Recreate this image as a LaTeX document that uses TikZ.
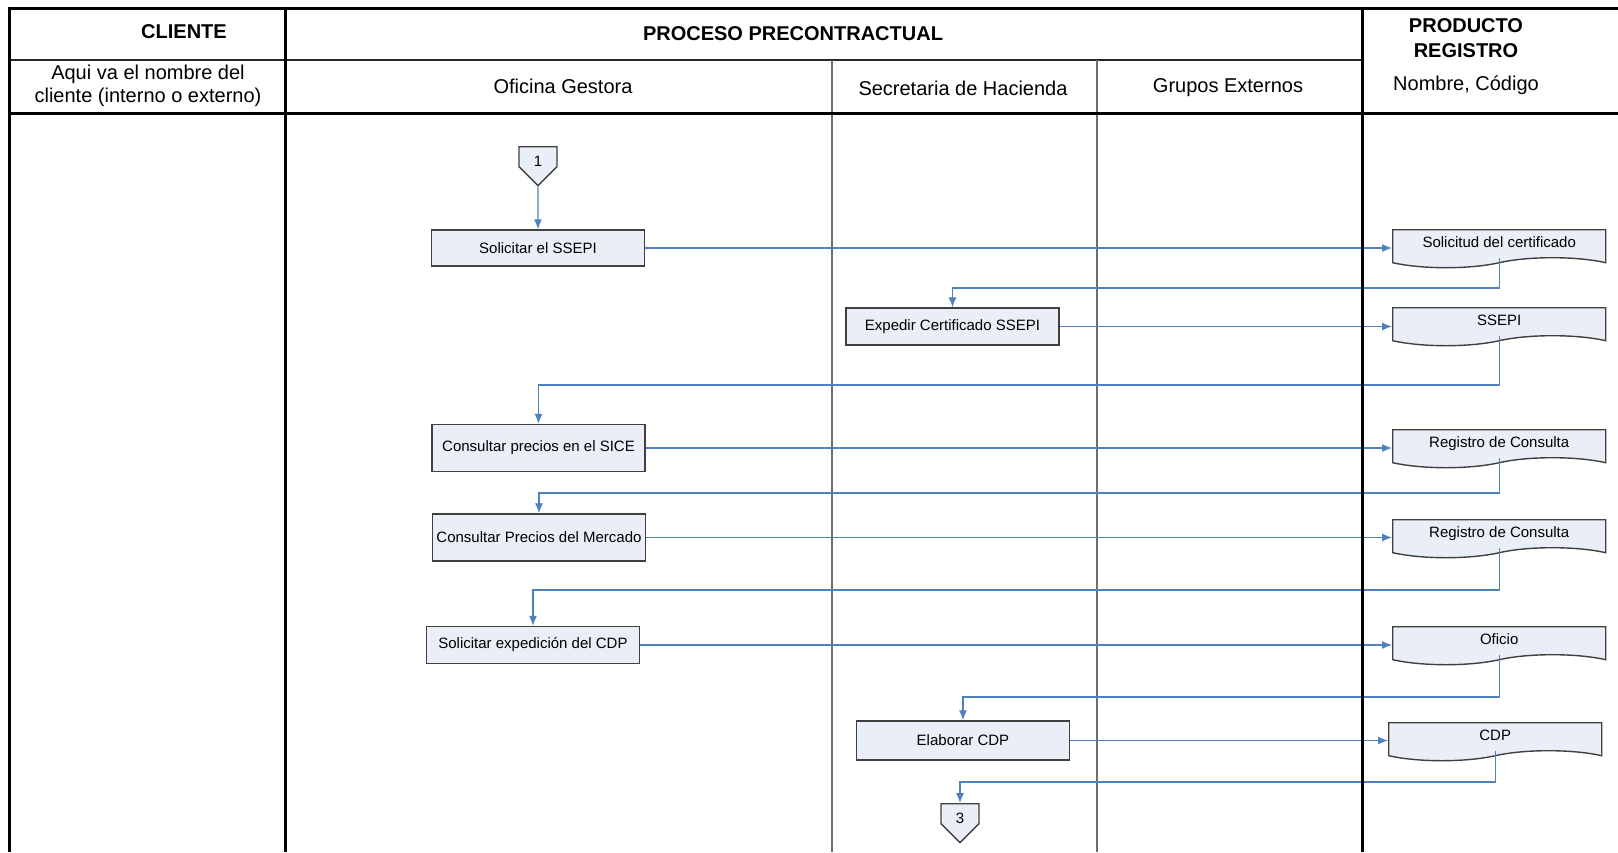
\documentclass[tikz,border=0pt]{standalone}
\usepackage{fontspec}
\setmainfont{Liberation Sans}
\usetikzlibrary{positioning, arrows.meta, shapes.symbols}

\definecolor{flowblue}{RGB}{79,129,189}
\definecolor{boxfill}{RGB}{233,238,247}
\definecolor{boxline}{RGB}{64,64,64}
\definecolor{lanegray}{RGB}{110,110,110}

\begin{document}
\begin{tikzpicture}[x=0.5pt, y=-0.5pt]

	\tikzstyle{frame}=[line width=1.5pt, black]
	\tikzstyle{rowline}=[line width=1pt, black!85]
	\tikzstyle{lane}=[line width=0.7pt, lanegray]
	\tikzstyle{head}=[font=\fontsize{10}{11.5}\selectfont, align=center, inner sep=0pt]
	\tikzstyle{headbold}=[font=\fontsize{10}{12.5}\selectfont\bfseries, align=center, inner sep=0pt]
	\tikzstyle{process}=[draw=boxline, line width=0.7pt, fill=boxfill, font=\fontsize{7.5}{9}\selectfont, minimum width=106.5pt, minimum height=18pt, inner sep=0pt]
	\tikzstyle{docnode}=[shape=tape, tape bend top=none, tape bend bottom=in and out, tape bend height=5pt, draw=boxline, line width=0.7pt, fill=boxfill, font=\fontsize{7.5}{9}\selectfont, minimum width=106.5pt, minimum height=19pt, text height=5.5pt, text depth=1.5pt, inner sep=0pt, anchor=north west]
	\tikzstyle{offpage}=[shape=signal, signal to=south, signal pointer angle=90, draw=boxline, line width=0.7pt, fill=boxfill, font=\fontsize{7.5}{9}\selectfont, minimum width=19pt, minimum height=11pt, text height=10pt, text depth=0pt, inner sep=0pt, anchor=north]
	\tikzstyle{flow}=[-{Latex[length=5pt, width=4pt]}, flowblue, line width=0.6pt]

	\useasboundingbox (0,0) rectangle (1618,852);

	% lanes
	\draw[rowline] (9,60) -- (1362,60);
	\draw[lane] (832,60) -- (832,852);
	\draw[lane] (1097,60) -- (1097,852);

	% header
	\node[headbold] (cliente) at (184,32) {CLIENTE};
	\node[headbold] (proceso) at (793,34) {PROCESO PRECONTRACTUAL};
	\node[headbold] (producto) at (1466,38) {PRODUCTO\\REGISTRO};
	\node[head] (clientename) at (148,86) {Aqui va el nombre del\\cliente (interno o externo)};
	\node[head] (oficina) at (563,86) {Oficina Gestora};
	\node[head] (secretaria) at (963,88) {Secretaria de Hacienda};
	\node[head] (grupos) at (1228,88) {Grupos Externos};
	\node[head] (nombre) at (1466,85) {Nombre, Código};

	% steps
	\node[offpage] (c1) at (538,146) {1};
	\node[process] (solicitar) at (538,248) {Solicitar el SSEPI};
	\node[process, minimum height=18.5pt] (expedir) at (952.5,326.5) {Expedir Certificado SSEPI};
	\node[process, minimum height=23.5pt] (sice) at (538.5,448) {Consultar precios en el SICE};
	\node[process, minimum height=23.5pt] (mercado) at (539,537.5) {Consultar Precios del Mercado};
	\node[process, minimum height=18.5pt] (cdpreq) at (533,645) {Solicitar expedición del CDP};
	\node[process, minimum height=19.5pt] (elaborar) at (963,740.5) {Elaborar CDP};
	\node[offpage] (c3) at (960,803) {3};

	% products
	\node[docnode] (doc1) at (1392,229) {Solicitud del certificado};
	\node[docnode] (doc2) at (1392,307) {SSEPI};
	\node[docnode] (doc3) at (1392,429) {Registro de Consulta};
	\node[docnode] (doc4) at (1392,519) {Registro de Consulta};
	\node[docnode] (doc5) at (1392,626) {Oficio};
	\node[docnode] (doc6) at (1388,722) {CDP};

	% turning points of the return lines
	\coordinate (turn1) at (0,288);
	\coordinate (turn2) at (0,385);
	\coordinate (turn3) at (0,493);
	\coordinate (turn4) at (0,590);
	\coordinate (turn5) at (0,697);
	\coordinate (turn6) at (0,782);

	\draw[flow] (c1) -- (solicitar);
	\draw[flow] (solicitar.east) -- (solicitar.east -| doc1.west);
	\draw[flow] (doc1.south) -- (doc1.south |- turn1) -| (expedir.north);
	\draw[flow] (expedir.east) -- (expedir.east -| doc2.west);
	\draw[flow] (doc2.south) -- (doc2.south |- turn2) -| (sice.north);
	\draw[flow] (sice.east) -- (sice.east -| doc3.west);
	\draw[flow] (doc3.south) -- (doc3.south |- turn3) -| (mercado.north);
	\draw[flow] (mercado.east) -- (mercado.east -| doc4.west);
	\draw[flow] (doc4.south) -- (doc4.south |- turn4) -| (cdpreq.north);
	\draw[flow] (cdpreq.east) -- (cdpreq.east -| doc5.west);
	\draw[flow] (doc5.south) -- (doc5.south |- turn5) -| (elaborar.north);
	\draw[flow] (elaborar.east) -- (elaborar.east -| doc6.west);
	\draw[flow] (doc6.south) -- (doc6.south |- turn6) -| (c3.north);

	% frame
	\draw[frame] (9,852) -- (9,8) -- (1618,8);
	\draw[frame] (285,8) -- (285,852);
	\draw[frame] (1362,8) -- (1362,852);
	\draw[frame] (9,113) -- (1618,113);

\end{tikzpicture}
\end{document}
